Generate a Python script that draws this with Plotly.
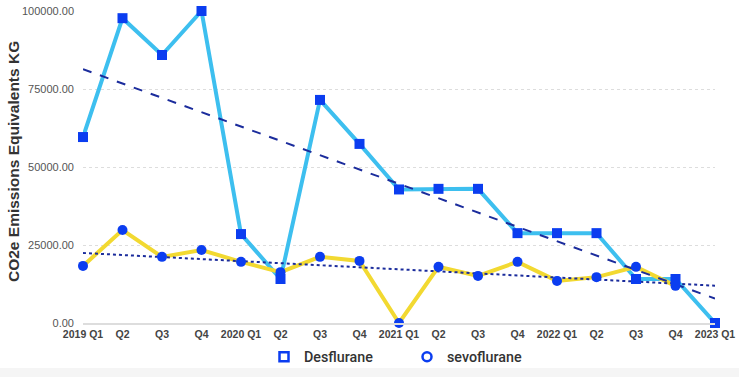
import numpy as np
import plotly.graph_objects as go

quarters = ["2019 Q1", "Q2", "Q3", "Q4", "2020 Q1", "Q2", "Q3", "Q4",
            "2021 Q1", "Q2", "Q3", "Q4", "2022 Q1", "Q2", "Q3", "Q4", "2023 Q1"]
desflurane = [59600, 97700, 85900, 100000, 28500, 14100, 71500, 57400,
              42800, 43000, 43000, 28800, 28800, 28800, 14100, 14100, 0]
sevoflurane = [18300, 29800, 21200, 23400, 19600, 16300, 21200, 19900,
               0, 18000, 15100, 19600, 13500, 14700, 18000, 11900]
y_ticks = [0, 25000, 50000, 75000, 100000]

x_all = np.arange(len(quarters))
x_des = x_all[:len(desflurane)]
x_sev = x_all[:len(sevoflurane)]

# linear trendlines (least squares), drawn across the full category span
d_fit = np.polyfit(x_des, desflurane, 1)
s_fit = np.polyfit(x_sev, sevoflurane, 1)
x_tr = np.array([x_all[0], x_all[-1]])

BLUE_LINE = "#3DBFEF"
YELLOW = "#F2D931"
MARK = "#0B3DF0"
TREND = "#1B2C9C"

W, H = 739, 377
L, R, T, B = 83, 24, 11, 54
PW, PH = W - L - R, H - T - B
BOT = T + PH

fig = go.Figure()
fig.add_trace(go.Scatter(x=x_des, y=desflurane, mode="lines",
                         line=dict(color=BLUE_LINE, width=4), showlegend=False,
                         cliponaxis=False))
fig.add_trace(go.Scatter(x=x_sev, y=sevoflurane, mode="lines",
                         line=dict(color=YELLOW, width=4), showlegend=False,
                         cliponaxis=False))
fig.add_trace(go.Scatter(x=x_tr, y=np.polyval(d_fit, x_tr), mode="lines",
                         line=dict(color=TREND, width=2, dash="dash"), showlegend=False))
fig.add_trace(go.Scatter(x=x_tr, y=np.polyval(s_fit, x_tr), mode="lines",
                         line=dict(color=TREND, width=2, dash="dot"), showlegend=False))
fig.add_trace(go.Scatter(x=x_sev, y=sevoflurane, mode="markers",
                         marker=dict(symbol="circle", size=10, color=MARK),
                         showlegend=False, cliponaxis=False))
fig.add_trace(go.Scatter(x=x_des, y=desflurane, mode="markers",
                         marker=dict(symbol="square", size=10, color=MARK),
                         showlegend=False, cliponaxis=False))
# legend entries (hollow markers)
fig.add_trace(go.Scatter(x=[None], y=[None], mode="markers", name="Desflurane",
                         marker=dict(symbol="square-open", size=9, color=MARK,
                                     line=dict(width=2.5, color=MARK))))
fig.add_trace(go.Scatter(x=[None], y=[None], mode="markers", name="sevoflurane",
                         marker=dict(symbol="circle-open", size=9, color=MARK,
                                     line=dict(width=2.5, color=MARK))))

fig.update_layout(
    width=W, height=H,
    margin=dict(l=L, r=R, t=T, b=B, autoexpand=False),
    paper_bgcolor="white", plot_bgcolor="white",
    font=dict(family="Liberation Sans, Arial, sans-serif", color="#444"),
    showlegend=True,
    legend=dict(orientation="h", x=(264 - L) / PW, xanchor="left",
                y=-(357 - BOT) / PH, yanchor="middle",
                font=dict(family="Roboto, Liberation Sans, sans-serif", size=14.3,
                          color="#333", weight=500),
                itemwidth=30, entrywidth=98, bgcolor="rgba(0,0,0,0)"),
    shapes=[dict(type="rect", xref="paper", yref="paper", x0=-0.2, x1=1.1,
                 y0=-(H - BOT) / PH - 0.01, y1=-(368 - BOT) / PH,
                 fillcolor="#F5F5F5", line=dict(width=0), layer="below")],
    annotations=[dict(text="<b>CO2e Emissions Equivalents KG</b>", textangle=-90,
                      xref="paper", yref="paper", x=(14 - L) / PW,
                      y=(BOT - 162) / PH,
                      xanchor="center", yanchor="middle", showarrow=False,
                      font=dict(size=15.5, color="#333"))],
)
fig.update_xaxes(
    range=[x_all[0], x_all[-1]], automargin=False,
    tickmode="array", tickvals=x_all, ticktext=["<b>%s</b>" % q for q in quarters],
    tickfont=dict(size=10.5, color="#444"),
    showgrid=False, zeroline=False, showline=True, linecolor="#DDDDDD", linewidth=2,
    ticks="", ticklen=0, ticklabelstandoff=0, ticklabeloverflow="allow",
)
fig.update_yaxes(
    range=[0, 100000], automargin=False,
    tickmode="array", tickvals=y_ticks, ticktext=["%.2f" % v for v in y_ticks],
    tickfont=dict(size=11, color="#555"),
    showgrid=True, gridcolor="#DDDDDD", griddash="dot", gridwidth=1,
    zeroline=False, ticks="", ticklabelstandoff=8, ticklabeloverflow="allow",
)

fig.write_html("out.html", config={"displayModeBar": False},
               post_script="document.body.style.margin='0';"
                           "document.body.style.overflow='hidden';")
